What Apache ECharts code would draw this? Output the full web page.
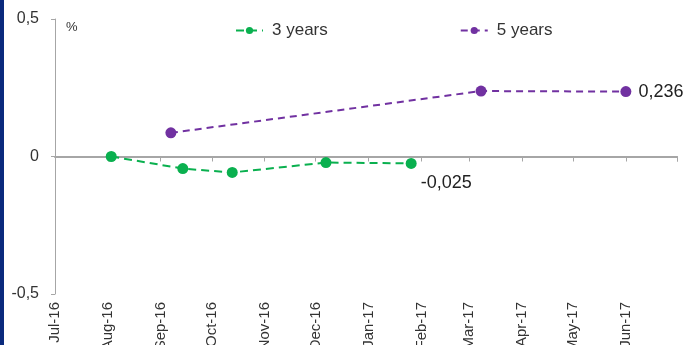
<!DOCTYPE html>
<html>
<head>
<meta charset="utf-8">
<script src="https://cdn.jsdelivr.net/npm/echarts@6/dist/echarts.min.js"></script>
<style>
  html, body { margin: 0; padding: 0; background: #fff; }
  #chart { width: 687px; height: 345px; }
</style>
</head>
<body>
<div id="chart"></div>
<script>
// Observation dates and yields (%) for each maturity
const threeYearDates = ['2016-08-03', '2016-09-14', '2016-10-13', '2016-12-07', '2017-01-26'];
const threeYearValues = [0, -0.044, -0.058, -0.022, -0.025];
const fiveYearDates = ['2016-09-07', '2017-03-08', '2017-06-01'];
const fiveYearValues = [0.086, 0.238, 0.236];

const seriesNames = ['3 years', '5 years'];
const axisStart = '2016-07-01';
const axisEnd = '2017-07-01';
const monthNames = ['Jan', 'Feb', 'Mar', 'Apr', 'May', 'Jun', 'Jul', 'Aug', 'Sep', 'Oct', 'Nov', 'Dec'];
const yTicks = [-0.5, 0, 0.5];

const FONT = "'Liberation Sans', Arial, sans-serif";
const GREEN = '#0ab04f';
const PURPLE = '#7131a1';
const AXIS = '#a6a6a6';
const DAY = 86400000;

const comma = v => String(v).replace('.', ',');
const toTime = s => { const p = s.split('-').map(Number); return new Date(p[0], p[1] - 1, p[2]).getTime(); };
const minT = toTime(axisStart);
const maxT = toTime(axisEnd);

function buildPoints(dates, values, lastLabel) {
  return dates.map((d, i) => {
    const item = { value: [toTime(d), values[i]] };
    if (i === dates.length - 1) item.label = Object.assign({ show: true }, lastLabel);
    return item;
  });
}

const labelText = {
  color: '#222', fontSize: 18, fontFamily: FONT,
  formatter: p => comma(p.value[1])
};

const chart = echarts.init(document.getElementById('chart'), null, { renderer: 'canvas' });

const timeAxisBase = {
  type: 'time',
  min: minT,
  max: maxT,
  splitNumber: 12,
  minInterval: 28 * DAY,
  maxInterval: 31 * DAY,
  splitLine: { show: false }
};

chart.setOption({
  animation: false,
  backgroundColor: '#fff',
  grid: { left: 55, right: 10, top: 19, bottom: 51, containLabel: false, outerBoundsMode: 'none' },
  graphic: [
    { type: 'rect', left: 0, top: 0, shape: { width: 4, height: 345 }, style: { fill: '#0a2a7d' }, z: 10 },
    { type: 'text', left: 66, top: 21, style: { text: '%', font: "13px 'Liberation Sans', Arial, sans-serif", fill: '#333' } }
  ],
  legend: {
    data: seriesNames,
    left: 230,
    top: 17,
    itemWidth: 27,
    itemHeight: 9,
    itemGap: 132,
    textStyle: { color: '#333', fontSize: 17, fontFamily: FONT, padding: [0, 0, 0, 4] }
  },
  xAxis: [
    Object.assign({}, timeAxisBase, {
      position: 'bottom',
      axisLine: { onZero: true, lineStyle: { color: AXIS, width: 2 } },
      axisTick: { show: true, length: 5, lineStyle: { color: AXIS, width: 1 } },
      axisLabel: { show: false }
    }),
    Object.assign({}, timeAxisBase, {
      position: 'bottom',
      axisLine: { show: false, onZero: false },
      axisTick: { show: false },
      axisLabel: {
        show: true,
        rotate: 90,
        margin: 8,
        color: '#333',
        fontSize: 15,
        fontFamily: FONT,
        showMaxLabel: false,
        formatter: v => {
          if (v >= maxT) return '';
          const d = new Date(v);
          return monthNames[d.getMonth()] + '-' + String(d.getFullYear()).slice(2);
        }
      }
    })
  ],
  yAxis: {
    type: 'value',
    min: yTicks[0],
    max: yTicks[yTicks.length - 1],
    interval: 0.5,
    axisLine: { show: true, lineStyle: { color: AXIS, width: 1 } },
    axisTick: { show: true, length: 4, lineStyle: { color: AXIS } },
    splitLine: { show: false },
    axisLabel: { color: '#333', fontSize: 16, fontFamily: FONT, margin: 16, formatter: v => comma(v) }
  },
  series: [
    {
      name: seriesNames[0],
      type: 'line',
      xAxisIndex: 0,
      data: buildPoints(threeYearDates, threeYearValues, Object.assign({ position: 'bottom', offset: [35, 0], distance: 5 }, labelText)),
      symbol: 'circle',
      symbolSize: 11,
      itemStyle: { color: GREEN },
      lineStyle: { color: GREEN, width: 2, type: [8, 5] },
      z: 3
    },
    {
      name: seriesNames[1],
      type: 'line',
      xAxisIndex: 0,
      data: buildPoints(fiveYearDates, fiveYearValues, Object.assign({ position: 'right', distance: 7 }, labelText)),
      symbol: 'circle',
      symbolSize: 11,
      itemStyle: { color: PURPLE },
      lineStyle: { color: PURPLE, width: 2, type: [7, 5] },
      z: 3
    }
  ]
});
</script>
</body>
</html>
